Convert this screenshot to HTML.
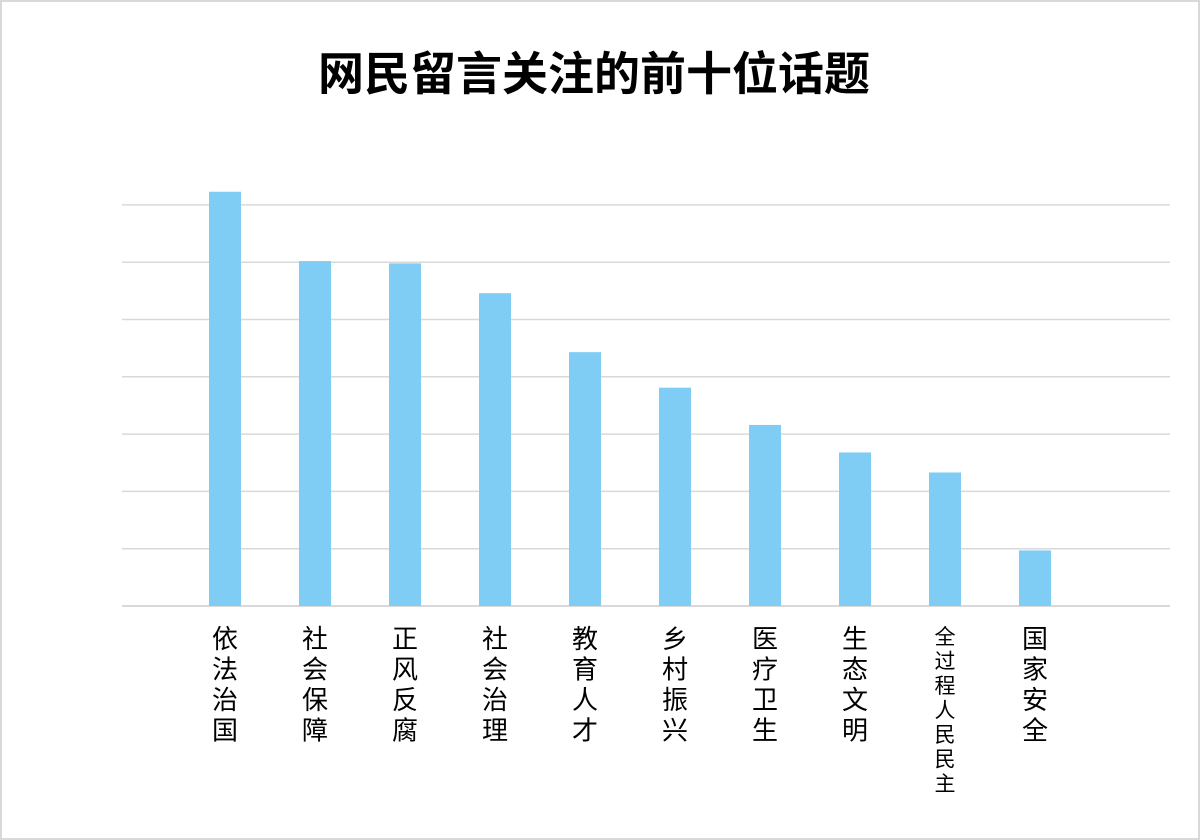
<!DOCTYPE html>
<html><head><meta charset="utf-8"><style>
html,body{margin:0;padding:0;background:#fff;}
#wrap{position:relative;width:1196px;height:836px;border:2px solid #d9d9d9;overflow:hidden;background:#fff;}
svg text{font-family:"Liberation Sans","Noto Sans CJK SC",sans-serif;}
</style></head><body>
<div id="wrap">
<svg id="chart" width="1196" height="836">
<text x="592" y="88" text-anchor="middle" font-size="46" font-weight="bold" fill="#000">网民留言关注的前十位话题</text>
</svg>
</div>
<script>
const categories=["依法治国","社会保障","正风反腐","社会治理","教育人才","乡村振兴","医疗卫生","生态文明","全过程人民民主","国家安全"];
const values=[7.23,6.02,5.98,5.46,4.43,3.81,3.16,2.68,2.33,0.97];
const gridTicks=[0,1,2,3,4,5,6,7];
const svg=document.getElementById('chart');
const NS='http://www.w3.org/2000/svg';
const baseY=604,unit=57.3,x0=178,band=90,barW=32;
function y(v){return baseY-v*unit;}
function xc(i){return x0+band*i+band/2;}
gridTicks.forEach(t=>{
 const l=document.createElementNS(NS,'line');
 l.setAttribute('x1',120);l.setAttribute('x2',1168);
 l.setAttribute('y1',y(t));l.setAttribute('y2',y(t));
 l.setAttribute('stroke','#d9d9d9');l.setAttribute('stroke-width',t===0?2:1.5);
 
 
 svg.appendChild(l);
});
values.forEach((v,i)=>{
 const r=document.createElementNS(NS,'rect');
 r.setAttribute('x',xc(i)-barW/2);r.setAttribute('y',y(v));
 r.setAttribute('width',barW);r.setAttribute('height',baseY-y(v));
 r.setAttribute('fill','#7fcdf4');
 
 
 svg.appendChild(r);
});
categories.forEach((c,i)=>{
 const small=c.length>4;
 const fs=small?21:26, lh=small?24.5:30.5;
 const g=document.createElementNS(NS,'text');
 g.setAttribute('text-anchor','middle');g.setAttribute('font-size',fs);g.setAttribute('fill','#000');
 
 
 [...c].forEach((ch,k)=>{
  const s=document.createElementNS(NS,'tspan');
  s.setAttribute('x',xc(i));s.setAttribute('y',(small?642:646)+k*lh);
  s.textContent=ch;g.appendChild(s);
 });
 svg.appendChild(g);
});
</script>
</body></html>
